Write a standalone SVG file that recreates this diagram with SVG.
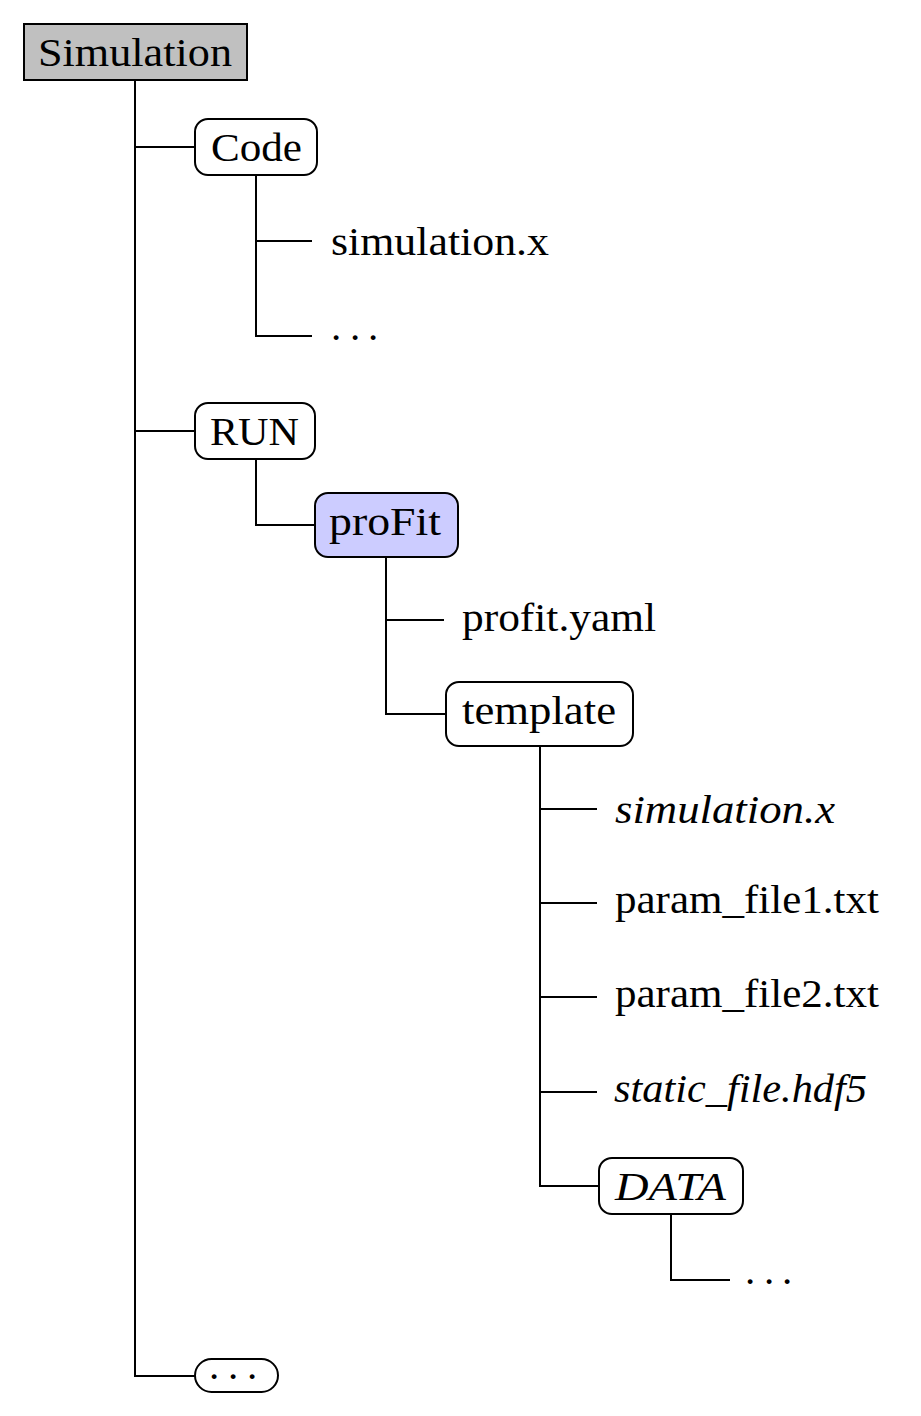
<svg xmlns="http://www.w3.org/2000/svg" width="921" height="1416" viewBox="0 0 921 1416">
<style>
  .ln { fill: none; stroke: #000; stroke-width: 2; }
  .box { stroke: #000; stroke-width: 2; }
  .t { font-family: "Liberation Serif", "Times New Roman", serif; font-size: 41px; fill: #000; }
  .it { font-style: italic; }
</style>
<rect width="921" height="1416" fill="#fff"/>
<g id="connectors" class="ln">
  <path d="M135,80 V1376 H195"/>
  <path d="M135,147 H195"/>
  <path d="M135,431 H195"/>
  <path d="M256,175 V336 H312"/>
  <path d="M256,241 H312"/>
  <path d="M256,459 V525 H315"/>
  <path d="M386,557 V714 H446"/>
  <path d="M386,620 H444"/>
  <path d="M540,746 V1186 H599"/>
  <path d="M540,809 H597"/>
  <path d="M540,903 H597"/>
  <path d="M540,997 H597"/>
  <path d="M540,1092 H597"/>
  <path d="M671,1214 V1280 H730"/>
</g>
<g id="simulation">
  <rect class="box" x="24" y="24" width="223" height="56" fill="#c0c0c0"/>
  <text class="t" x="38" y="66" textLength="194" lengthAdjust="spacingAndGlyphs">Simulation</text>
</g>
<g id="code">
  <rect class="box" x="195" y="119" width="122" height="56" rx="13" fill="#fff"/>
  <text class="t" x="211" y="161" textLength="91" lengthAdjust="spacingAndGlyphs">Code</text>
</g>
<g id="code-simulation-x">
  <text class="t" x="331" y="255" textLength="218" lengthAdjust="spacingAndGlyphs">simulation.x</text>
</g>
<g id="code-dots">
  <text class="t" x="331 350 368" y="340">...</text>
</g>
<g id="run">
  <rect class="box" x="195" y="403" width="120" height="56" rx="13" fill="#fff"/>
  <text class="t" x="210" y="445" textLength="89" lengthAdjust="spacingAndGlyphs">RUN</text>
</g>
<g id="profit">
  <rect class="box" x="315" y="493" width="143" height="64" rx="13" fill="#ccccff"/>
  <text class="t" x="329" y="535" textLength="112" lengthAdjust="spacingAndGlyphs">proFit</text>
</g>
<g id="profit-yaml">
  <text class="t" x="462" y="631" textLength="194" lengthAdjust="spacingAndGlyphs">profit.yaml</text>
</g>
<g id="template">
  <rect class="box" x="446" y="682" width="187" height="64" rx="13" fill="#fff"/>
  <text class="t" x="462" y="724" textLength="154" lengthAdjust="spacingAndGlyphs">template</text>
</g>
<g id="template-simulation-x">
  <text class="t it" x="615" y="823" textLength="220" lengthAdjust="spacingAndGlyphs">simulation.x</text>
</g>
<g id="param-file1">
  <text class="t" x="615" y="913" textLength="264" lengthAdjust="spacingAndGlyphs">param_file1.txt</text>
</g>
<g id="param-file2">
  <text class="t" x="615" y="1007" textLength="264" lengthAdjust="spacingAndGlyphs">param_file2.txt</text>
</g>
<g id="static-file">
  <text class="t it" x="614" y="1102" textLength="253" lengthAdjust="spacingAndGlyphs">static_file.hdf5</text>
</g>
<g id="data">
  <rect class="box" x="599" y="1158" width="144" height="56" rx="13" fill="#fff"/>
  <text class="t it" x="615" y="1200" textLength="111" lengthAdjust="spacingAndGlyphs">DATA</text>
</g>
<g id="data-dots">
  <text class="t" x="745 764 782" y="1284">...</text>
</g>
<g id="more">
  <rect class="box" x="195" y="1359" width="83" height="33" rx="16.5" fill="#fff"/>
  <text class="t" x="209 228 247" y="1379">...</text>
</g>
</svg>
